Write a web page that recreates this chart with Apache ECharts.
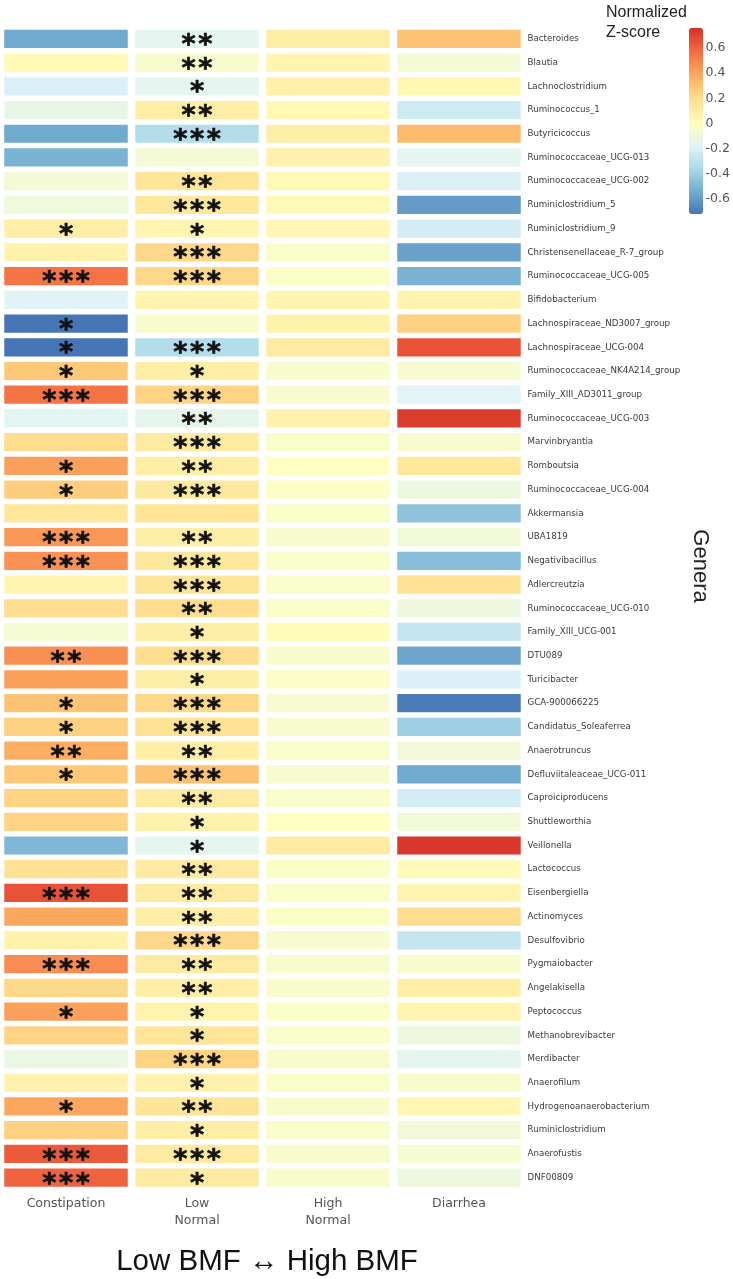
<!DOCTYPE html>
<html><head><meta charset="utf-8">
<script src="https://cdn.jsdelivr.net/npm/echarts@6/dist/echarts.min.js"></script>
<style>html,body{margin:0;padding:0;background:#fff}#c{width:733px;height:1279px}</style>
</head><body><div id="c"></div>
<script>
const genera = ['Bacteroides','Blautia','Lachnoclostridium','Ruminococcus_1','Butyricicoccus','Ruminococcaceae_UCG-013','Ruminococcaceae_UCG-002','Ruminiclostridium_5','Ruminiclostridium_9','Christensenellaceae_R-7_group','Ruminococcaceae_UCG-005','Bifidobacterium','Lachnospiraceae_ND3007_group','Lachnospiraceae_UCG-004','Ruminococcaceae_NK4A214_group','Family_XIII_AD3011_group','Ruminococcaceae_UCG-003','Marvinbryantia','Romboutsia','Ruminococcaceae_UCG-004','Akkermansia','UBA1819','Negativibacillus','Adlercreutzia','Ruminococcaceae_UCG-010','Family_XIII_UCG-001','DTU089','Turicibacter','GCA-900066225','Candidatus_Soleaferrea','Anaerotruncus','Defluviitaleaceae_UCG-011','Caproiciproducens','Shuttleworthia','Veillonella','Lactococcus','Eisenbergiella','Actinomyces','Desulfovibrio','Pygmaiobacter','Angelakisella','Peptococcus','Methanobrevibacter','Merdibacter','Anaerofilum','Hydrogenoanaerobacterium','Ruminiclostridium','Anaerofustis','DNF00809'];
const groups = ['Constipation','Low\nNormal','High\nNormal','Diarrhea'];
const constipation = [-0.55,0.04,-0.2,-0.13,-0.55,-0.52,-0.07,-0.09,0.1,0.08,0.55,-0.18,-0.72,-0.72,0.28,0.55,-0.16,0.2,0.42,0.26,0.15,0.45,0.46,0.06,0.2,-0.06,0.47,0.42,0.3,0.25,0.38,0.28,0.24,0.24,-0.5,0.18,0.65,0.4,0.08,0.48,0.22,0.42,0.24,-0.12,0.08,0.4,0.25,0.63,0.6];
const lowNormal = [-0.15,-0.04,-0.15,0.1,-0.33,-0.07,0.16,0.14,0.06,0.22,0.22,0.06,-0.04,-0.33,0.1,0.24,-0.14,0.12,0.1,0.13,0.16,0.1,0.14,0.16,0.2,0.1,0.2,0.1,0.22,0.17,0.1,0.3,0.12,0.08,-0.15,0.12,0.12,0.1,0.22,0.12,0.1,0.07,0.16,0.24,0.08,0.16,0.1,0.12,0.12];
const highNormal = [0.1,0.06,0.09,0.04,0.1,0.08,0.04,0.03,0.05,-0.03,-0.02,0.06,0.08,0.12,-0.04,-0.05,0.08,-0.03,-0.01,-0.02,-0.03,-0.04,-0.03,-0.03,-0.03,0.02,-0.04,-0.02,-0.05,-0.04,-0.03,-0.05,-0.03,-0.01,0.12,-0.02,-0.03,-0.02,-0.05,-0.04,-0.04,-0.02,-0.03,-0.04,-0.03,-0.04,-0.03,-0.04,-0.04];
const diarrhea = [0.3,-0.07,0.05,-0.24,0.33,-0.15,-0.2,-0.6,-0.22,-0.58,-0.52,0.07,0.25,0.65,-0.05,-0.17,0.72,-0.05,0.14,-0.1,-0.45,-0.08,-0.47,0.18,-0.1,-0.27,-0.57,-0.2,-0.7,-0.4,-0.08,-0.55,-0.22,-0.08,0.74,0.03,0.06,0.2,-0.27,-0.04,0.1,0.06,-0.1,-0.15,-0.04,0.05,-0.08,-0.06,-0.1];
const starsConstipation = [0,0,0,0,0,0,0,0,1,0,3,0,1,1,1,3,0,0,1,1,0,3,3,0,0,0,2,0,1,1,2,1,0,0,0,0,3,0,0,3,0,1,0,0,0,1,0,3,3];
const starsLowNormal = [2,2,1,2,3,0,2,3,1,3,3,0,0,3,1,3,2,3,2,3,0,2,3,3,2,1,3,1,3,3,2,3,2,1,1,2,2,2,3,2,2,1,1,3,1,2,1,3,1];
const colorbarTicks = [-0.6,-0.4,-0.2,0,0.2,0.4,0.6];
const scaleMin = -0.72, scaleMax = 0.76;

const columns = [constipation, lowNormal, highNormal, diarrhea];
const starCols = [starsConstipation, starsLowNormal, null, null];

const data = [];
columns.forEach((arr, ci) => arr.forEach((v, ri) => data.push([ci, ri, v, starCols[ci] ? starCols[ci][ri] : 0])));

// diverging palette (RdYlBu reversed), centred on 0
const palette = ['#4575b4','#74add1','#abd9e9','#e0f3f8','#ffffbf','#fee090','#fdae61','#f46d43','#d73027'];
function hex(c){return [1,3,5].map(i=>parseInt(c.substr(i,2),16));}
function sample(t){const p=t*(palette.length-1);const i=Math.min(Math.floor(p),palette.length-2);const f=p-i;const a=hex(palette[i]),b=hex(palette[i+1]);return 'rgb('+a.map((x,k)=>Math.round(x+(b[k]-x)*f)).join(',')+')';}
const mapColors = [];
const N = 90;
for (let k=0;k<N;k++){const v=scaleMin+(scaleMax-scaleMin)*k/(N-1);const t=v<0?0.5*(v-scaleMin)/(0-scaleMin):0.5+0.5*v/scaleMax;mapColors.push(sample(t));}

const chart = echarts.init(document.getElementById('c'), null, {renderer:'canvas'});
chart.setOption({
  animation:false,
  backgroundColor:'#fff',
  grid:[
    {left:0.5, top:27, width:524, height:1162.5},
    {left:689, top:28, width:14, height:186}
  ],
  xAxis:[
    {type:'category', gridIndex:0, data:groups, position:'bottom',
     axisLine:{show:false}, axisTick:{show:false}, splitLine:{show:false},
     axisLabel:{margin:6, fontFamily:'DejaVu Sans', fontSize:12.5, color:'#555', lineHeight:17, interval:0}},
    {type:'value', gridIndex:1, show:false, min:0, max:1}
  ],
  yAxis:[
    {type:'category', gridIndex:0, data:genera, inverse:true, position:'right',
     axisLine:{show:false}, axisTick:{show:false}, splitLine:{show:false},
     axisLabel:{margin:3, fontFamily:'DejaVu Sans', fontSize:8.7, color:'#3a3a3a', interval:0}},
    {type:'value', gridIndex:1, min:scaleMin, max:scaleMax, position:'right',
     axisLine:{show:false}, axisTick:{show:false}, splitLine:{show:false},
     axisLabel:{margin:4, fontFamily:'DejaVu Sans', fontSize:12.5, color:'#555', customValues:colorbarTicks,
       formatter:v=>String(+(+v).toFixed(1))}}
  ],
  visualMap:{
    type:'continuous', min:scaleMin, max:scaleMax, dimension:2, seriesIndex:0,
    orient:'vertical', left:689, top:28, itemWidth:14, itemHeight:186, padding:0,
    calculable:false, hoverLink:false, text:null, showLabel:false,
    inRange:{color:mapColors}
  },
  graphic:[
    {type:'text', left:606, top:3, style:{text:'Normalized\nZ-score', font:'16px "Liberation Sans"', fill:'#222', lineHeight:20}},
    {type:'text', x:700, y:566, rotation:-Math.PI/2, style:{text:'Genera', font:'22px "Liberation Sans"', fill:'#222', align:'center', verticalAlign:'middle'}},
    {type:'text', x:267, y:1262, style:{text:'Low BMF \u2194 High BMF', font:'29.5px "Liberation Sans"', fill:'#111', align:'center', verticalAlign:'middle'}}
  ],
  series:[{
    type:'custom', xAxisIndex:0, yAxisIndex:0,
    encode:{x:0, y:1},
    data:data,
    renderItem:function(params, api){
      const c = api.coord([api.value(0), api.value(1)]);
      const s = api.size([1,1]);
      const w = s[0]-7.5, h = s[1]-5.5;
      const n = api.value(3);
      const children = [{type:'rect', shape:{x:c[0]-w/2, y:c[1]-h/2, width:w, height:h}, style:{fill:api.visual('color')}}];
      if (n>0) children.push({type:'text', style:{text:new Array(n).fill('*').join('\u200A'), x:c[0], y:c[1]+7, align:'center', verticalAlign:'middle', font:'bold 27px "DejaVu Sans"', fill:'#111', stroke:'#111', lineWidth:0.7}});
      return {type:'group', children:children};
    }
  }]
});
</script></body></html>
